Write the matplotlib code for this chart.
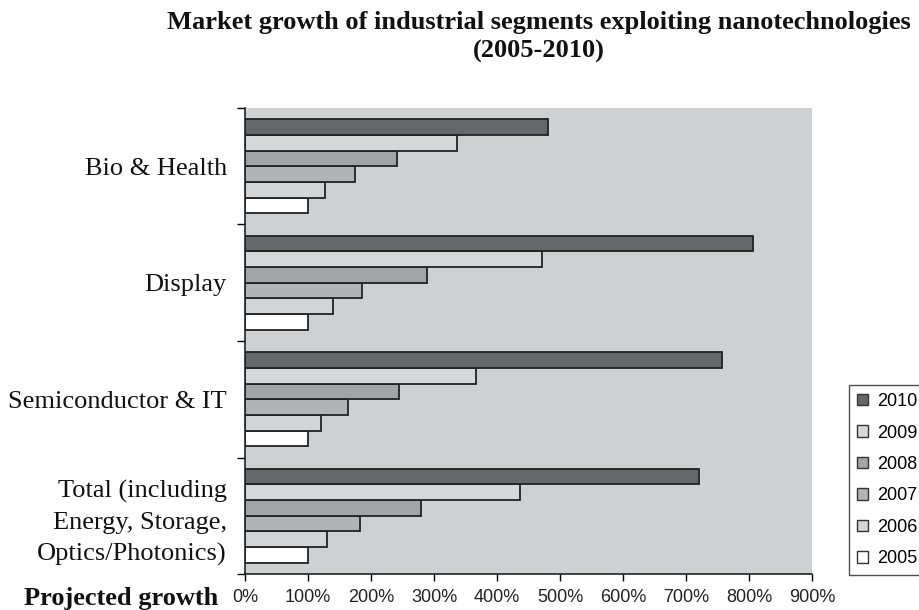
import matplotlib.pyplot as plt
import numpy as np
from matplotlib.patches import Patch

# categories top -> bottom
segments = ['Bio & Health', 'Display', 'Semiconductor & IT',
            'Total (including\nEnergy, Storage,\nOptics/Photonics)']
years = ['2005', '2006', '2007', '2008', '2009', '2010']

# growth in % (2005 = 100%), one list per year, same order as segments
g2005 = [100, 100, 100, 100]
g2006 = [127, 140, 121, 130]
g2007 = [175, 186, 164, 182]
g2008 = [242, 289, 244, 280]
g2009 = [337, 472, 366, 437]
g2010 = [481, 806, 757, 721]
series = [g2005, g2006, g2007, g2008, g2009, g2010]

colors = ['#ffffff', '#d3d4d6', '#b2b3b5', '#a3a4a6', '#d6d7d9', '#66676b']
xticks = [0, 100, 200, 300, 400, 500, 600, 700, 800, 900]

W, H = 919, 610
fig = plt.figure(figsize=(W / 100, H / 100), dpi=100)
ax = fig.add_axes([245 / W, 36 / H, 567 / W, 466 / H])
ax.set_facecolor('#cfd0d2')

h = 0.135
y = np.arange(len(segments))
for k in range(len(years)):
    ax.barh(y + (2.5 - k) * h, series[k], height=h, color=colors[k],
            edgecolor='#222222', linewidth=1.3)

ax.set_xlim(0, 900)
ax.set_ylim(3.5, -0.5)
ax.set_xticks(xticks)
ax.set_xticklabels(['%d%%' % v for v in xticks], family='Liberation Sans',
                   fontsize=13, color='#222222')
ax.tick_params(axis='x', direction='out', length=5, width=1, pad=6)

ax.set_yticks(np.arange(-0.5, 4, 1))
ax.set_yticklabels([])
ax.tick_params(axis='y', which='major', direction='out', length=6, width=1)
ax.set_yticks(y, minor=True)
ax.set_yticklabels(segments, minor=True, family='Liberation Serif',
                   fontsize=19, linespacing=1.5, ha='right', color='#111111')
ax.tick_params(axis='y', which='minor', length=0, pad=13)

for s in ['top', 'right']:
    ax.spines[s].set_visible(False)
for s in ['left', 'bottom']:
    ax.spines[s].set_color('#222222')
    ax.spines[s].set_linewidth(1.2)

fig.text(539 / W, 1 - 37 / H, 'Market growth of industrial segments exploiting nanotechnologies\n(2005-2010)',
         ha='center', va='center', family='Liberation Serif', fontweight='bold',
         fontsize=19, linespacing=1.35, color='#111111')
fig.text(218 / W, 1 - 598 / H, 'Projected growth', ha='right', va='center',
         family='Liberation Serif', fontweight='bold', fontsize=19, color='#111111')

handles = [Patch(facecolor=colors[k], edgecolor='#333333', linewidth=1, label=years[k])
           for k in range(len(years) - 1, -1, -1)]
leg = fig.legend(handles=handles, loc='upper left', bbox_to_anchor=(849 / W, 1 - 385 / H),
                 prop={'family': 'Liberation Sans', 'size': 13}, frameon=True, fancybox=False,
                 handlelength=0.6, handleheight=0.6, handletextpad=0.5,
                 labelspacing=0.8, borderpad=0.45, borderaxespad=0)
leg.get_frame().set_edgecolor('#222222')
leg.get_frame().set_linewidth(1)

fig.savefig('out.png', dpi=100)
